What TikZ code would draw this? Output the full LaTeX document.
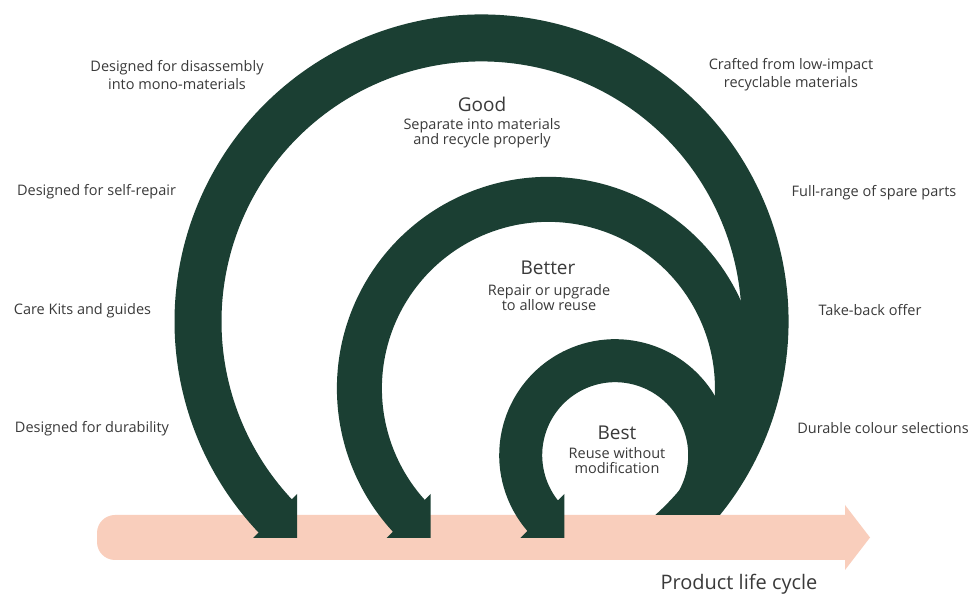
\documentclass[tikz,border=0pt]{standalone}
\usepackage{fontspec}
\setmainfont{Open Sans}

\definecolor{loopgreen}{HTML}{1B3F33}
\definecolor{lifepink}{HTML}{F9CEBC}
\definecolor{labelgrey}{HTML}{3A3A3A}

\tikzset{
	loopband/.style={draw=loopgreen, line cap=butt},
	loophead/.style={fill=loopgreen},
	side label/.style={text=labelgrey, inner sep=0, align=center, font=\fontsize{14.5}{18}\selectfont},
	level name/.style={text=labelgrey, inner sep=0, font=\fontsize{19}{22}\selectfont},
	level text/.style={text=labelgrey, inner sep=0, align=center, font=\fontsize{14.5}{15}\selectfont}
}

\begin{document}
\begin{tikzpicture}[x=1pt, y=1pt]
	\fill[white] (0,0) rectangle (977,599);
	% the three loops leave the life cycle at one point and share it as tangent point
	\coordinate (start) at (682,77);
	\coordinate (cGood) at (481.5,277.5);
	\coordinate (cBetter) at (548.4,210.6);
	\coordinate (cBest) at (615.2,143.8);
	\coordinate (eGood) at (281.1,77);
	\coordinate (eBetter) at (414.7,77);
	\coordinate (eBest) at (548.4,77);

	% life cycle arrow
	\fill[lifepink] (845,84) -- (115,84) arc[start angle=90, end angle=180, radius=18] -- (97,57) arc[start angle=180, end angle=270, radius=18] -- (845,39) -- (845,29) -- (870,61.5) -- (845,94) -- cycle;

	\begin{scope}
		\clip (0,84) rectangle (977,599) (0,0) rectangle (580,84);
		\draw[loopband, line width=47] ([shift={(-65:283.5)}]cGood) arc[start angle=-65, end angle=224, radius=283.5];
		\draw[loopband, line width=45] ([shift={(-65:189)}]cBetter) arc[start angle=-65, end angle=224, radius=189];
		\draw[loopband, line width=43] ([shift={(-65:94.5)}]cBest) arc[start angle=-65, end angle=224, radius=94.5];
	\end{scope}

	\fill[loophead] ([shift={(16,28)}]eGood) -- ([shift={(16,-16)}]eGood) -- ([shift={(-28,-16)}]eGood) -- cycle;
	\fill[loophead] ([shift={(16,28)}]eBetter) -- ([shift={(16,-16)}]eBetter) -- ([shift={(-28,-16)}]eBetter) -- cycle;
	\fill[loophead] ([shift={(16,28)}]eBest) -- ([shift={(16,-16)}]eBest) -- ([shift={(-28,-16)}]eBest) -- cycle;

	% levels
	\node[level name] (good) at (482,495) {Good};
	\node[level text] (goodtext) at (482,466) {Separate into materials\\and recycle properly};
	\node[level name] (better) at (548,331) {Better};
	\node[level text] (bettertext) at (549,301.5) {Repair or upgrade\\to allow reuse};
	\node[level name] (best) at (617,166) {Best};
	\node[level text] (besttext) at (617,138) {Reuse without\\modification};

	% left labels
	\node[side label] (disassembly) at (177,523.5) {Designed for disassembly\\into mono-materials};
	\node[side label] (selfrepair) at (96.5,407) {Designed for self-repair};
	\node[side label] (carekits) at (82.5,288) {Care Kits and guides};
	\node[side label] (durability) at (92,170) {Designed for durability};

	% right labels
	\node[side label] (crafted) at (791,524) {Crafted from low-impact\\recyclable materials};
	\node[side label] (spareparts) at (874,406) {Full-range of spare parts};
	\node[side label] (takeback) at (870,289) {Take-back offer};
	\node[side label] (colours) at (883,171) {Durable colour selections};

	\node[text=labelgrey, inner sep=0, font=\fontsize{20}{24}\selectfont] (lifecycle) at (739,15) {Product life cycle};
\end{tikzpicture}
\end{document}
